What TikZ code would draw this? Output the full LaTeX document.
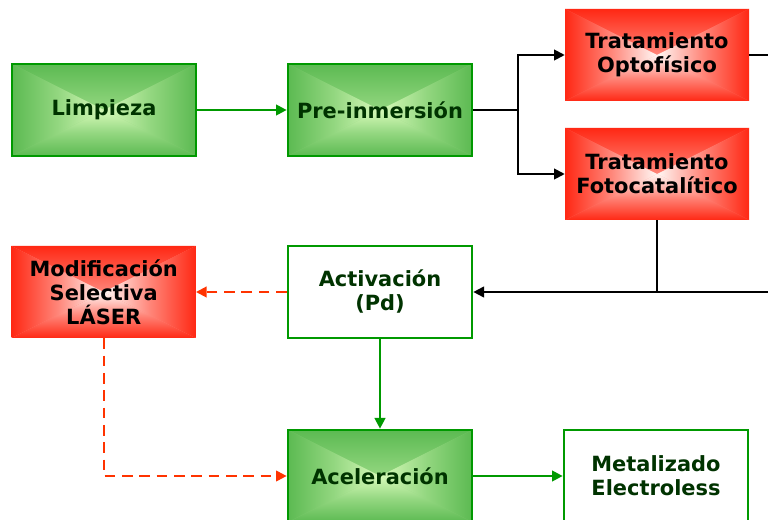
\documentclass[tikz,border=0pt]{standalone}
\usepackage{fontspec}
\setmainfont{DejaVu Sans}
\usetikzlibrary{arrows.meta,positioning,calc}

\definecolor{boxgreen}{RGB}{0,153,0}
\definecolor{greenedge}{RGB}{92,186,82}
\definecolor{greenmid}{RGB}{215,250,185}
\definecolor{rededge}{RGB}{255,40,20}
\definecolor{redmid}{RGB}{255,248,245}
\definecolor{darkgreen}{RGB}{0,51,0}
\definecolor{dashred}{RGB}{255,51,0}

\tikzset{
  boxgrad/.style 2 args={fill=#1!55!#2, path picture={
    \shade[top color=#1, bottom color=#2, middle color=#1!55!#2] (path picture bounding box.north west) -- (path picture bounding box.north east) -- (path picture bounding box.center) -- cycle;
    \shade[top color=#2, bottom color=#1, middle color=#1!55!#2] (path picture bounding box.south west) -- (path picture bounding box.south east) -- (path picture bounding box.center) -- cycle;
    \shade[left color=#1, right color=#2, middle color=#1!55!#2] (path picture bounding box.north west) -- (path picture bounding box.south west) -- (path picture bounding box.center) -- cycle;
    \shade[left color=#2, right color=#1, middle color=#1!55!#2] (path picture bounding box.north east) -- (path picture bounding box.south east) -- (path picture bounding box.center) -- cycle;
  }},
  stagebox/.style={rectangle, minimum width=138pt, minimum height=69pt, inner sep=0pt,
    align=center, font=\fontsize{15.7pt}{18pt}\selectfont\bfseries},
  greenbox/.style={stagebox, draw=boxgreen, line width=2pt, text=darkgreen,
    boxgrad={greenedge}{greenmid}},
  whitebox/.style={stagebox, draw=boxgreen, line width=2pt, fill=white, text=darkgreen},
  redbox/.style={stagebox, text=black, boxgrad={rededge}{redmid}},
  greenarrow/.style={-{Triangle[length=8pt,width=8pt]}, boxgreen, line width=1.6pt},
  blackline/.style={black, line width=1.4pt},
  blackarrow/.style={blackline, -{Triangle[length=8pt,width=8pt]}},
  dasharrow/.style={-{Triangle[length=8pt,width=8pt]}, dashred, line width=1.5pt,
    dash pattern=on 8pt off 5pt}
}

\begin{document}
\begin{tikzpicture}[x=0.75pt, y=-0.75pt]
  \useasboundingbox (0,0) rectangle (768,520);

  % top row
  \node[greenbox] (limp) at (104,110) {Limpieza};
  \node[greenbox, right=67pt of limp] (pre) {Pre-inmersión};
  \node[redbox] (opto) at (657,55) {Tratamiento\\Optofísico};
  \node[redbox] (foto) at (657,174) {Tratamiento\\Fotocatalítico};

  % middle row
  \node[whitebox] (activ) at (380,292) {Activación\\(Pd)};
  \node[redbox, left=68pt of activ] (modif) {Modificación\\Selectiva\\LÁSER};

  % bottom row
  \node[greenbox] (acel) at (380,476) {Aceleración};
  \node[whitebox, right=67pt of acel] (metal) {Metalizado\\Electroless};

  % helper points
  \coordinate (split) at (518,110);
  \coordinate (optoout) at (780,55);
  \coordinate (join) at (foto.south |- activ);
  \coordinate (rightin) at (780,292);

  % treatments
  \draw[greenarrow] (limp) -- (pre);
  \draw[blackline] (pre.east) -- (split);
  \draw[blackarrow] (split) |- (opto.west);
  \draw[blackarrow] (split) |- (foto.west);
  \draw[blackline] (opto.east) -- (optoout);
  \draw[blackline] (foto.south) -- (join);
  \draw[blackarrow] (rightin) -- (activ.east);

  % activation and plating
  \draw[greenarrow] (activ) -- (acel);
  \draw[greenarrow] (acel) -- (metal);

  % laser route
  \draw[dasharrow] (activ) -- (modif);
  \draw[dasharrow] (modif.south) |- (acel.west);
\end{tikzpicture}
\end{document}
